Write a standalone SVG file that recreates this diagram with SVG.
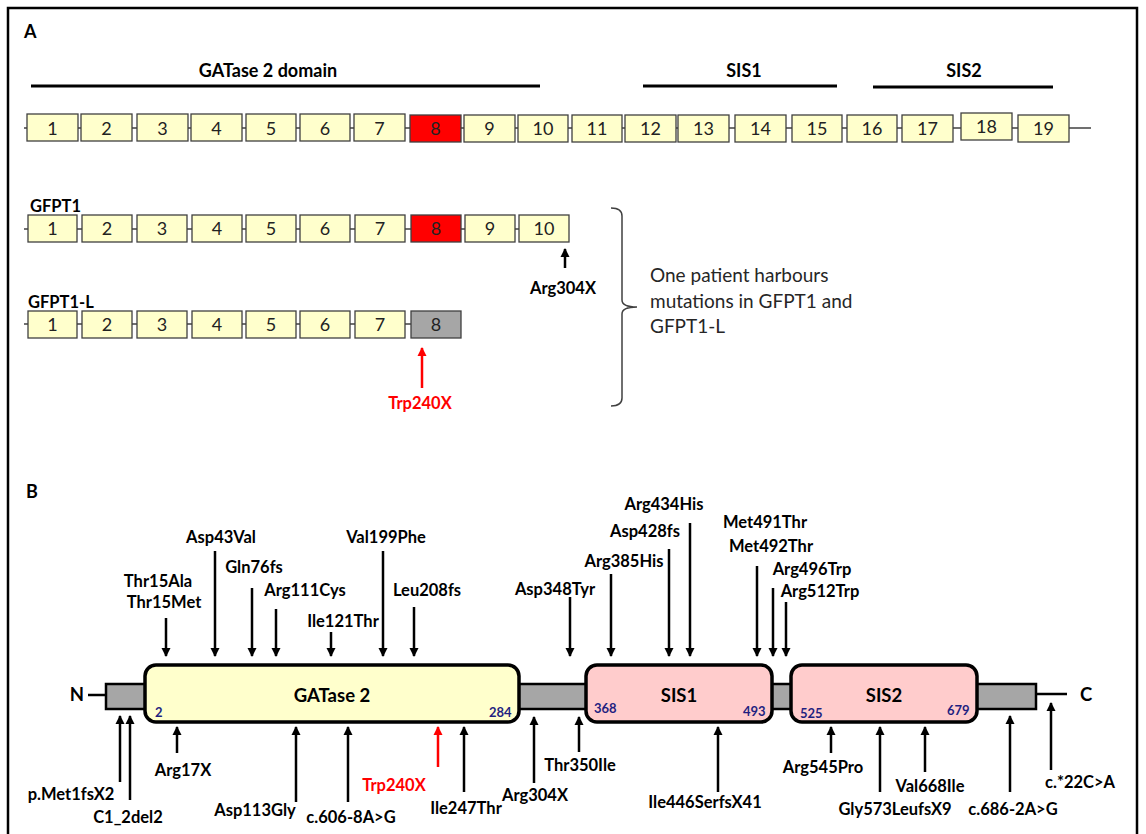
<svg xmlns="http://www.w3.org/2000/svg" width="1146" height="834" viewBox="0 0 1146 834">
<defs>
<style>
text{font-family:Lato,"Liberation Sans",sans-serif;fill:#000}
.hd{font-size:18px;font-weight:bold}
.ex{font-size:18px;text-anchor:middle;fill:#222}
.lb{font-size:16.5px;font-weight:bold;text-anchor:middle}
.gl{font-size:16.5px;font-weight:bold;text-anchor:start}
.num{font-size:13px;font-weight:bold;fill:#1f1f80}
.dom{font-size:18.5px;font-weight:bold;text-anchor:middle}
.note{font-size:19px;fill:#262626}
.exon{fill:#FFFFCC;stroke:#404040;stroke-width:1.3}
.red{fill:#FF0000}
.gray{fill:#A6A6A6}
.bb{stroke:#404040;stroke-width:1.5;fill:none}
.bar{stroke:#000;stroke-width:3;fill:none}
.arr{stroke:#000;stroke-width:2.5;fill:none;marker-end:url(#ah)}
.arrr{stroke:#FF0000;stroke-width:2.5;fill:none;marker-end:url(#ahr)}
.dbox{stroke:#000;stroke-width:3.5}
</style>
<marker id="ah" markerUnits="userSpaceOnUse" markerWidth="10" markerHeight="10" refX="8" refY="5" orient="auto"><path d="M0,0.5 L9,5 L0,9.5 Z" fill="#000"/></marker>
<marker id="ahr" markerUnits="userSpaceOnUse" markerWidth="10" markerHeight="10" refX="8" refY="5" orient="auto"><path d="M0,0.5 L9,5 L0,9.5 Z" fill="#FF0000"/></marker>
</defs>
<rect x="8" y="8" width="1129" height="840" fill="#fff" stroke="#000" stroke-width="2.5"/>

<g id="panelA">
<text class="hd" x="24" y="38">A</text>
<g id="domain-bars">
<text class="hd" x="268" y="77" text-anchor="middle">GATase 2 domain</text>
<text class="hd" x="744" y="77" text-anchor="middle">SIS1</text>
<text class="hd" x="964" y="77" text-anchor="middle">SIS2</text>
<line class="bar" x1="31" y1="86" x2="540" y2="86"/>
<line class="bar" x1="643" y1="86" x2="837" y2="86"/>
<line class="bar" x1="873" y1="87" x2="1053" y2="87"/>
</g>
<g id="gene-full">
<line class="bb" x1="24" y1="128" x2="1091" y2="128"/>
<rect class="exon" x="27" y="114" width="51" height="27"/><text class="ex" x="52.5" y="135">1</text>
<rect class="exon" x="81" y="114" width="51" height="27"/><text class="ex" x="106.5" y="135">2</text>
<rect class="exon" x="137" y="114" width="51" height="27"/><text class="ex" x="162.5" y="135">3</text>
<rect class="exon" x="191" y="114" width="51" height="27"/><text class="ex" x="216.5" y="135">4</text>
<rect class="exon" x="246" y="114" width="50" height="27"/><text class="ex" x="271" y="135">5</text>
<rect class="exon" x="300" y="114" width="50" height="27"/><text class="ex" x="325" y="135">6</text>
<rect class="exon" x="354" y="114" width="51" height="27"/><text class="ex" x="379.5" y="135">7</text>
<rect class="exon red" x="410" y="115" width="51" height="27"/><text class="ex" x="435.5" y="135">8</text>
<rect class="exon" x="464" y="115" width="51" height="27"/><text class="ex" x="489.5" y="135">9</text>
<rect class="exon" x="518" y="115" width="50" height="27"/><text class="ex" x="543" y="135">10</text>
<rect class="exon" x="572" y="115" width="50" height="27"/><text class="ex" x="597" y="135">11</text>
<rect class="exon" x="625" y="115" width="51" height="27"/><text class="ex" x="650.5" y="135">12</text>
<rect class="exon" x="678" y="115" width="51" height="27"/><text class="ex" x="703.5" y="135">13</text>
<rect class="exon" x="735" y="115" width="51" height="27"/><text class="ex" x="760.5" y="135">14</text>
<rect class="exon" x="792" y="115" width="50" height="27"/><text class="ex" x="817" y="135">15</text>
<rect class="exon" x="847" y="115" width="50" height="27"/><text class="ex" x="872" y="135">16</text>
<rect class="exon" x="902" y="115" width="51" height="27"/><text class="ex" x="927.5" y="135">17</text>
<rect class="exon" x="961" y="113" width="51" height="27"/><text class="ex" x="986.5" y="133">18</text>
<rect class="exon" x="1018" y="115" width="51" height="27"/><text class="ex" x="1043.5" y="135">19</text>
</g>
<g id="gene-GFPT1">
<text class="gl" x="30" y="212">GFPT1</text>
<line class="bb" x1="24" y1="229" x2="569" y2="229"/>
<rect class="exon" x="28" y="215" width="49" height="27"/><text class="ex" x="52.5" y="235">1</text>
<rect class="exon" x="82" y="215" width="50" height="27"/><text class="ex" x="107" y="235">2</text>
<rect class="exon" x="137" y="215" width="50" height="27"/><text class="ex" x="162" y="235">3</text>
<rect class="exon" x="192" y="215" width="50" height="27"/><text class="ex" x="217" y="235">4</text>
<rect class="exon" x="246" y="215" width="50" height="27"/><text class="ex" x="271" y="235">5</text>
<rect class="exon" x="300" y="215" width="50" height="27"/><text class="ex" x="325" y="235">6</text>
<rect class="exon" x="355" y="215" width="50" height="27"/><text class="ex" x="380" y="235">7</text>
<rect class="exon red" x="411" y="215" width="50" height="27"/><text class="ex" x="436" y="235">8</text>
<rect class="exon" x="465" y="215" width="50" height="27"/><text class="ex" x="490" y="235">9</text>
<rect class="exon" x="519" y="215" width="50" height="27"/><text class="ex" x="544" y="235">10</text>
</g>
<g id="gene-GFPT1-L">
<text class="gl" x="28" y="308">GFPT1-L</text>
<line class="bb" x1="24" y1="324" x2="461" y2="324"/>
<rect class="exon" x="28" y="311" width="49" height="27"/><text class="ex" x="52.5" y="331">1</text>
<rect class="exon" x="82" y="311" width="50" height="27"/><text class="ex" x="107" y="331">2</text>
<rect class="exon" x="137" y="311" width="50" height="27"/><text class="ex" x="162" y="331">3</text>
<rect class="exon" x="192" y="311" width="50" height="27"/><text class="ex" x="217" y="331">4</text>
<rect class="exon" x="246" y="311" width="50" height="27"/><text class="ex" x="271" y="331">5</text>
<rect class="exon" x="300" y="311" width="50" height="27"/><text class="ex" x="325" y="331">6</text>
<rect class="exon" x="355" y="311" width="50" height="27"/><text class="ex" x="380" y="331">7</text>
<rect class="exon gray" x="411" y="311" width="50" height="27"/><text class="ex" x="436" y="331">8</text>
</g>
<g id="mutA-Arg304X">
<text class="lb" x="563" y="294">Arg304X</text>
</g>
<g id="mutA-Trp240X">
<text class="lb" x="420" y="409" style="fill:#FF0000">Trp240X</text>
</g>
<g id="note">
<path d="M611,208 Q622,208 622,216 L622,300 Q622,307 637,307 Q622,307 622,314 L622,398 Q622,406 611,406" fill="none" stroke="#404040" stroke-width="1.5"/>
<text class="note" x="650" y="282">One patient harbours</text>
<text class="note" x="650" y="308">mutations in GFPT1 and</text>
<text class="note" x="650" y="333">GFPT1-L</text>
</g>
</g>

<g id="panelB">
<text class="hd" x="26" y="498">B</text>
<g id="protein">
<line x1="88" y1="695" x2="106" y2="695" stroke="#000" stroke-width="2.5"/>
<line x1="1036" y1="694" x2="1067" y2="694" stroke="#000" stroke-width="2.5"/>
<rect x="106" y="684" width="930" height="25" fill="#A6A6A6" stroke="#000" stroke-width="2.5"/>
<text class="dom" x="77" y="701">N</text>
<text class="dom" x="1086" y="701">C</text>
</g>
<g id="dom-GATase2">
<rect class="dbox" x="145" y="665" width="374" height="57" rx="11" fill="#FFFFCC"/>
<text class="dom" x="332" y="702">GATase 2</text>
<text class="num" x="155" y="717">2</text>
<text class="num" x="489" y="717">284</text>
</g>
<g id="dom-SIS1">
<rect class="dbox" x="586" y="665" width="186" height="57" rx="11" fill="#FFCCCC"/>
<text class="dom" x="679" y="702">SIS1</text>
<text class="num" x="594" y="713">368</text>
<text class="num" x="743" y="716">493</text>
</g>
<g id="dom-SIS2">
<rect class="dbox" x="791" y="665" width="186" height="57" rx="11" fill="#FFCCCC"/>
<text class="dom" x="884" y="702">SIS2</text>
<text class="num" x="800" y="718">525</text>
<text class="num" x="947" y="715">679</text>
</g>
<g id="labels-top">
<text class="lb" x="158" y="587">Thr15Ala</text>
<text class="lb" x="164" y="608">Thr15Met</text>
<text class="lb" x="221" y="543">Asp43Val</text>
<text class="lb" x="254" y="573">Gln76fs</text>
<text class="lb" x="305" y="596">Arg111Cys</text>
<text class="lb" x="343" y="627">Ile121Thr</text>
<text class="lb" x="386" y="543">Val199Phe</text>
<text class="lb" x="427" y="596">Leu208fs</text>
<text class="lb" x="555" y="595">Asp348Tyr</text>
<text class="lb" x="624" y="567">Arg385His</text>
<text class="lb" x="645" y="537">Asp428fs</text>
<text class="lb" x="664" y="510">Arg434His</text>
<text class="lb" x="765" y="528">Met491Thr</text>
<text class="lb" x="771" y="552">Met492Thr</text>
<text class="lb" x="812" y="575">Arg496Trp</text>
<text class="lb" x="820" y="597">Arg512Trp</text>
</g>
<g id="labels-bottom">
<text class="lb" x="71" y="800">p.Met1fsX2</text>
<text class="lb" x="128" y="823">C1_2del2</text>
<text class="lb" x="183" y="776">Arg17X</text>
<text class="lb" x="255" y="816">Asp113Gly</text>
<text class="lb" x="351" y="823">c.606-8A&gt;G</text>
<text class="lb" x="394" y="791" style="fill:#FF0000">Trp240X</text>
<text class="lb" x="466" y="814">Ile247Thr</text>
<text class="lb" x="535" y="801">Arg304X</text>
<text class="lb" x="580" y="771">Thr350Ile</text>
<text class="lb" x="705" y="808">Ile446SerfsX41</text>
<text class="lb" x="823" y="773">Arg545Pro</text>
<text class="lb" x="895" y="815">Gly573LeufsX9</text>
<text class="lb" x="930" y="792">Val668Ile</text>
<text class="lb" x="1013" y="815">c.686-2A&gt;G</text>
<text class="lb" x="1080" y="788">c.*22C&gt;A</text>
</g>
</g>

<g id="connectors">
<line class="arr" x1="565" y1="268" x2="565" y2="249"/>
<line class="arrr" x1="422" y1="388" x2="422" y2="348"/>
<line class="arr" x1="166" y1="618" x2="166" y2="656"/>
<line class="arr" x1="215" y1="551" x2="215" y2="656"/>
<line class="arr" x1="252" y1="588" x2="252" y2="656"/>
<line class="arr" x1="276" y1="609" x2="276" y2="656"/>
<line class="arr" x1="331" y1="632" x2="331" y2="656"/>
<line class="arr" x1="383" y1="551" x2="383" y2="656"/>
<line class="arr" x1="414" y1="607" x2="414" y2="656"/>
<line class="arr" x1="570" y1="597" x2="570" y2="656"/>
<line class="arr" x1="611" y1="574" x2="611" y2="656"/>
<line class="arr" x1="669" y1="549" x2="669" y2="656"/>
<line class="arr" x1="690" y1="523" x2="690" y2="656"/>
<line class="arr" x1="757" y1="566" x2="757" y2="656"/>
<line class="arr" x1="773" y1="588" x2="773" y2="656"/>
<line class="arr" x1="786" y1="602" x2="786" y2="656"/>
<line class="arr" x1="120" y1="782" x2="120" y2="716"/>
<line class="arr" x1="130" y1="800" x2="130" y2="716"/>
<line class="arr" x1="177" y1="753" x2="177" y2="727"/>
<line class="arr" x1="296" y1="802" x2="296" y2="727"/>
<line class="arr" x1="348" y1="802" x2="348" y2="727"/>
<line class="arrr" x1="438" y1="767" x2="438" y2="727"/>
<line class="arr" x1="464" y1="792" x2="464" y2="727"/>
<line class="arr" x1="534" y1="783" x2="534" y2="717"/>
<line class="arr" x1="579" y1="752" x2="579" y2="717"/>
<line class="arr" x1="718" y1="792" x2="718" y2="727"/>
<line class="arr" x1="831" y1="753" x2="831" y2="727"/>
<line class="arr" x1="880" y1="792" x2="880" y2="727"/>
<line class="arr" x1="925" y1="772" x2="925" y2="727"/>
<line class="arr" x1="1010" y1="792" x2="1010" y2="716"/>
<line class="arr" x1="1051" y1="770" x2="1051" y2="703"/>
</g>
</svg>
